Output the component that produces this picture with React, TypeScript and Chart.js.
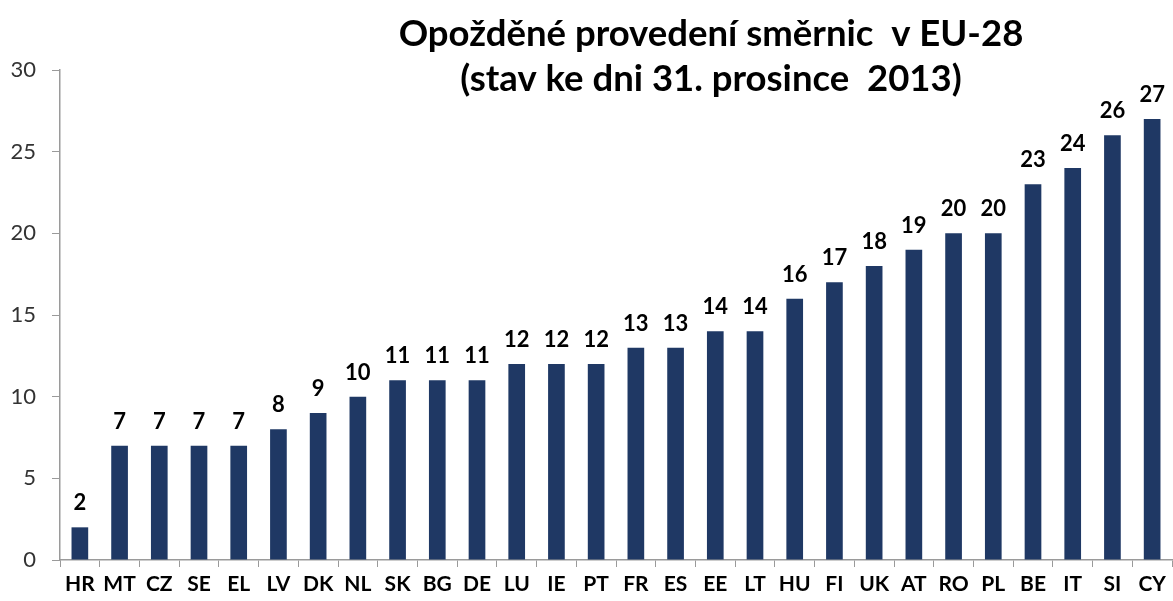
import React, { useEffect, useRef } from "react";
import { Chart, registerables } from "chart.js";

Chart.register(...registerables);

const categories = ["HR","MT","CZ","SE","EL","LV","DK","NL","SK","BG","DE","LU","IE","PT","FR","ES","EE","LT","HU","FI","UK","AT","RO","PL","BE","IT","SI","CY"];
const values = [2,7,7,7,7,8,9,10,11,11,11,12,12,12,13,13,14,14,16,17,18,19,20,20,23,24,26,27];
const titleLines = ["Opožděné provedení směrnic  v EU-28", "(stav ke dni 31. prosince  2013)"];
const yTicks = [0, 5, 10, 15, 20, 25, 30];

const FONT = "Lato, 'Open Sans', sans-serif";

export default function App() {
  const ref = useRef<HTMLCanvasElement>(null);
  useEffect(() => {
    const canvas = ref.current!;
    const labelPlugin = {
      id: "valueLabels",
      afterDatasetsDraw(chart: any) {
        const ctx = chart.ctx;
        const meta = chart.getDatasetMeta(0);
        ctx.save();
        ctx.font = `bold 22px ${FONT}`;
        ctx.fillStyle = "#000";
        ctx.textAlign = "center";
        ctx.textBaseline = "bottom";
        meta.data.forEach((bar: any, i: number) => {
          ctx.fillText(String(values[i]), bar.x, bar.y - 13);
        });
        ctx.restore();
      },
    };
    const titlePlugin = {
      id: "customTitle",
      afterDraw(chart: any) {
        const ctx = chart.ctx;
        ctx.save();
        ctx.font = `bold 36.5px ${FONT}`;
        ctx.fillStyle = "#000";
        ctx.textAlign = "center";
        ctx.textBaseline = "middle";
        ctx.fillText(titleLines[0], 711, 34);
        ctx.fillText(titleLines[1], 711, 79);
        ctx.restore();
      },
    };
    const chart = new Chart(canvas, {
      type: "bar",
      data: {
        labels: categories,
        datasets: [
          {
            data: values,
            backgroundColor: "#1F3864",
            categoryPercentage: 1,
            barPercentage: 0.42,
          },
        ],
      },
      options: {
        animation: false,
        responsive: false,
        maintainAspectRatio: false,
        layout: { padding: { top: 70, right: 1, left: 0, bottom: 0 } },
        plugins: {
          legend: { display: false },
          title: { display: false },
          tooltip: { enabled: false },
        },
        scales: {
          x: {
            offset: true,
            afterFit(axis: any) {
              axis.height = 41;
            },
            grid: {
              offset: true,
              drawOnChartArea: false,
              drawTicks: true,
              tickLength: 7,
              color: "#9a9a9a",
            },
            border: { color: "#9a9a9a", width: 1.5 },
            ticks: {
              color: "#000",
              font: { family: FONT, size: 21, weight: "bold" },
              padding: 5,
              maxRotation: 0,
              autoSkip: false,
            },
          },
          y: {
            min: 0,
            max: 30,
            afterFit(axis: any) {
              axis.width = 60;
            },
            afterBuildTicks(axis: any) {
              axis.ticks = yTicks.map((v) => ({ value: v }));
            },
            grid: {
              drawOnChartArea: false,
              drawTicks: true,
              tickLength: 8,
              color: "#9a9a9a",
            },
            border: { color: "#9a9a9a", width: 1.5 },
            ticks: {
              color: "#333",
              font: { family: FONT, size: 22 },
              padding: 16,
            },
          },
        },
      },
      plugins: [labelPlugin, titlePlugin],
    } as any);
    return () => chart.destroy();
  }, []);
  return (
    <div style={{ position: "fixed", left: 0, top: 0, width: 1173, height: 601, background: "#fff" }}>
      <canvas ref={ref} width={1173} height={601} style={{ display: "block" }} />
    </div>
  );
}
